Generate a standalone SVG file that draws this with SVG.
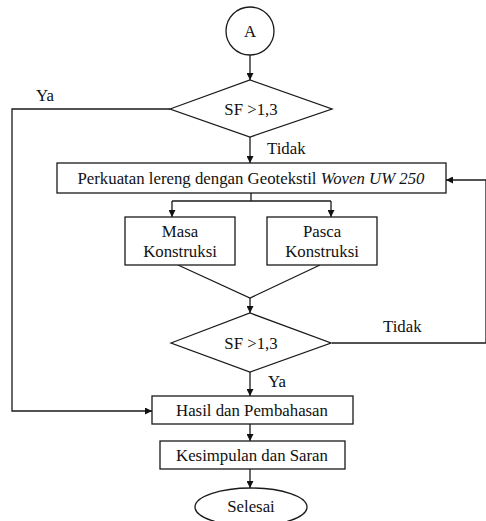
<svg xmlns="http://www.w3.org/2000/svg" width="486" height="521" viewBox="0 0 486 521" font-family="'Liberation Serif', 'Times New Roman', 'DejaVu Serif', serif">
<style>
.s{fill:#fff;stroke:#1a1a1a;stroke-width:1.3}
.c{fill:none;stroke:#1a1a1a;stroke-width:1.3}
text{font-family:'Liberation Serif','Times New Roman','DejaVu Serif',serif;font-size:16.8px;fill:#111}
.m{text-anchor:middle}
</style>
<defs>
<marker id="ah" viewBox="0 0 10 10" refX="10" refY="5" markerWidth="7" markerHeight="7" markerUnits="userSpaceOnUse" orient="auto">
<path d="M0,0 L10,5 L0,10 z" fill="#111"/>
</marker>
</defs>
<g id="connectors">
<line class="c" x1="250" y1="55" x2="250" y2="80" marker-end="url(#ah)"/>
<polyline class="c" points="170,109 12,109 12,411 152,411" marker-end="url(#ah)"/>
<line class="c" x1="250" y1="137" x2="250" y2="163" marker-end="url(#ah)"/>
<polyline class="c" points="332,343 486,343 486,180 446,180" marker-end="url(#ah)"/>
<line class="c" x1="251" y1="193" x2="251" y2="201"/>
<line class="c" x1="172" y1="201" x2="331" y2="201"/>
<line class="c" x1="172" y1="201" x2="172" y2="217" marker-end="url(#ah)"/>
<line class="c" x1="331" y1="201" x2="331" y2="217" marker-end="url(#ah)"/>
<polyline class="c" points="178,265 250,298 320,265"/>
<line class="c" x1="250" y1="298" x2="250" y2="313" marker-end="url(#ah)"/>
<line class="c" x1="250" y1="372" x2="250" y2="396" marker-end="url(#ah)"/>
<line class="c" x1="250" y1="424" x2="250" y2="441" marker-end="url(#ah)"/>
<line class="c" x1="250" y1="469" x2="250" y2="488" marker-end="url(#ah)"/>
<text x="36" y="101">Ya</text>
<text x="267" y="154">Tidak</text>
<text x="383" y="332">Tidak</text>
<text x="268" y="387">Ya</text>
</g>
<g id="start">
<circle class="s" cx="250" cy="31" r="24"/>
<text class="m" x="250" y="37">A</text>
</g>
<g id="decision1">
<polygon class="s" points="170,109 250,80 332,109 250,137"/>
<text class="m" x="251" y="115">SF &gt;1,3</text>
</g>
<g id="perkuatan">
<rect class="s" x="57" y="163" width="389" height="30"/>
<text class="m" x="251" y="184">Perkuatan lereng dengan Geotekstil <tspan font-style="italic">Woven UW 250</tspan></text>
</g>
<g id="masa">
<rect class="s" x="125" y="217" width="110" height="48"/>
<text class="m" x="180" y="237">Masa</text>
<text class="m" x="180" y="257">Konstruksi</text>
</g>
<g id="pasca">
<rect class="s" x="267" y="217" width="110" height="48"/>
<text class="m" x="322" y="237">Pasca</text>
<text class="m" x="322" y="257">Konstruksi</text>
</g>
<g id="decision2">
<polygon class="s" points="171,343 250,313 331,343 250,372"/>
<text class="m" x="251" y="349">SF &gt;1,3</text>
</g>
<g id="hasil">
<rect class="s" x="152" y="396" width="201" height="28"/>
<text class="m" x="252" y="416">Hasil dan Pembahasan</text>
</g>
<g id="kesimpulan">
<rect class="s" x="160" y="441" width="185" height="28"/>
<text class="m" x="252" y="461">Kesimpulan dan Saran</text>
</g>
<g id="selesai">
<ellipse class="s" cx="251" cy="507" rx="56" ry="19"/>
<text class="m" x="251" y="512">Selesai</text>
</g>
</svg>
